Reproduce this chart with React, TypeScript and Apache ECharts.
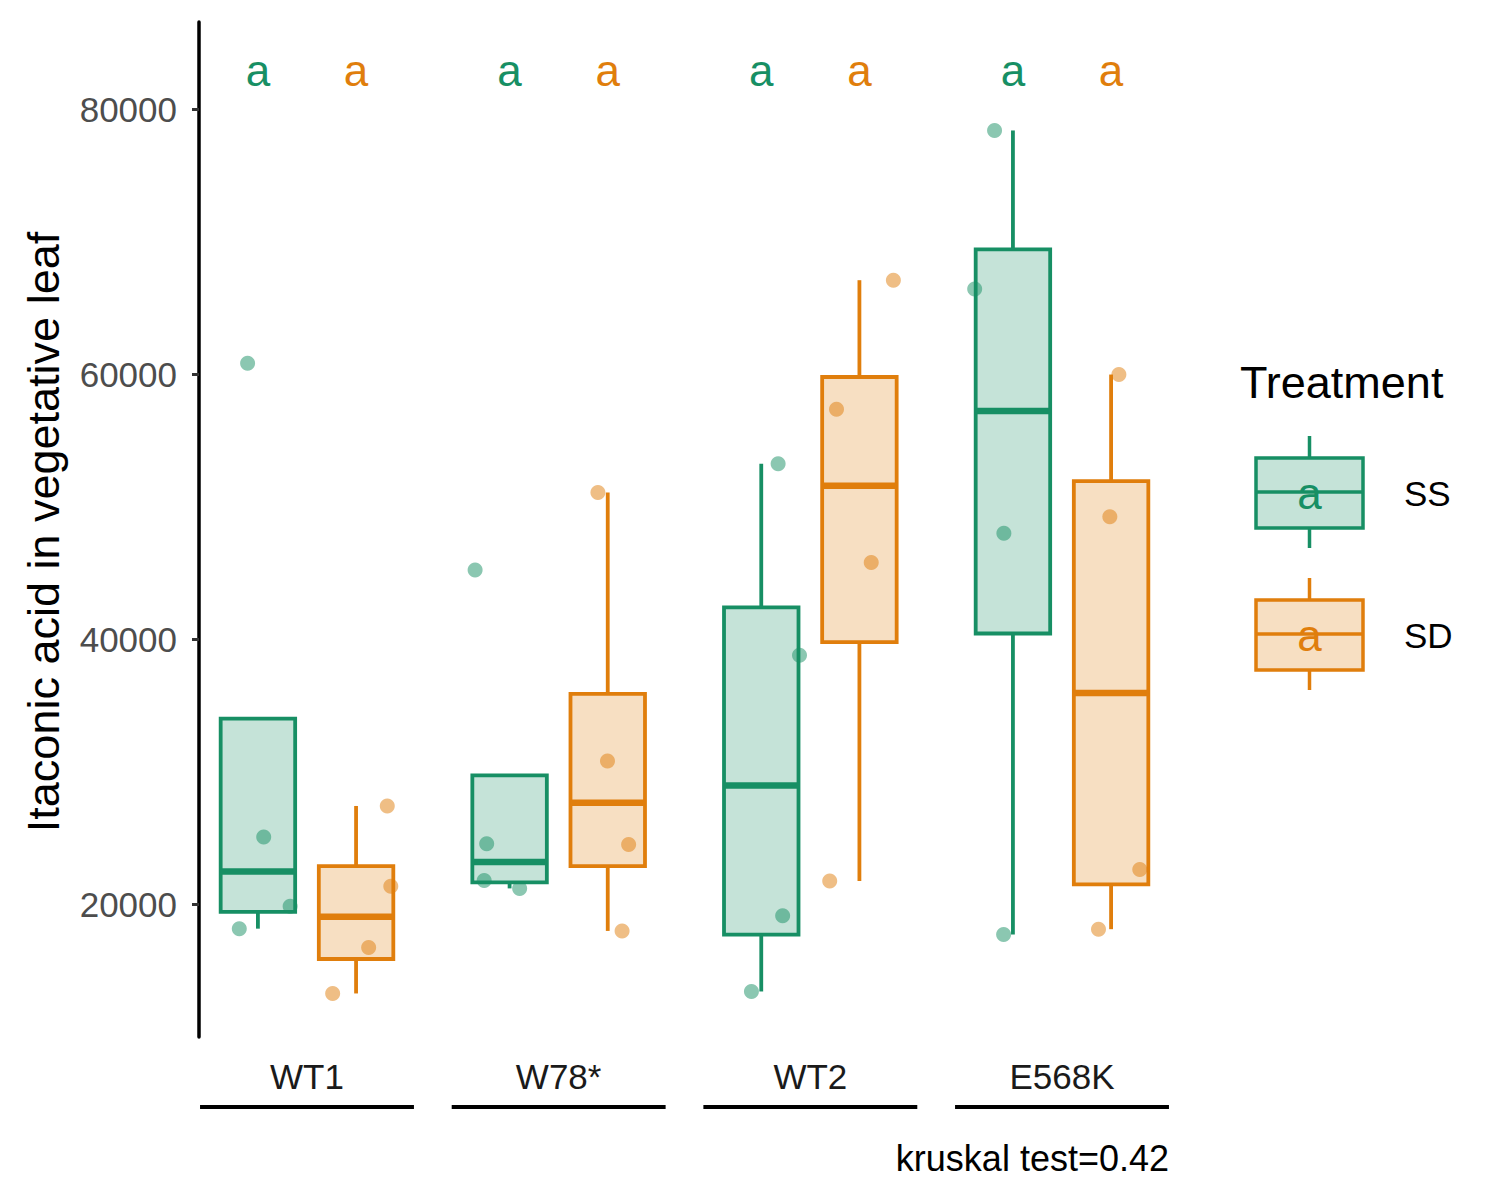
import React, { useEffect, useRef } from "react";
import * as echarts from "echarts";

// ---- data ----
const groups = ["WT1", "W78*", "WT2", "E568K"];
const treatments = ["SS", "SD"];
const ssValues = [
  [18140, 19830, 25060, 60810],
  [21180, 21780, 24550, 45210],
  [13400, 19120, 38780, 53220],
  [17700, 47990, 66420, 78380],
];
const sdValues = [
  [13250, 16720, 21340, 27400],
  [17970, 24490, 30800, 51050],
  [21730, 45780, 57340, 67080],
  [18100, 22610, 49230, 59960],
];
// horizontal jitter (in category units) of each point, same order as values
const ssJitter = [
  [-0.074, 0.128, 0.023, -0.041],
  [0.04, -0.101, -0.091, -0.137],
  [-0.039, 0.085, 0.152, 0.067],
  [-0.037, -0.036, -0.152, -0.073],
];
const sdJitter = [
  [-0.093, 0.05, 0.138, 0.124],
  [0.057, 0.083, -0.001, -0.039],
  [-0.118, 0.047, -0.091, 0.135],
  [-0.05, 0.114, -0.005, 0.031],
];
const ssLetters = ["a", "a", "a", "a"];
const sdLetters = ["a", "a", "a", "a"];
const letterY = 82900;
const yTicks = [20000, 40000, 60000, 80000];
const yTitle = "Itaconic acid in vegetative leaf";
const legendTitle = "Treatment";
const testNote = "kruskal test=0.42";

// ---- style ----
const FONT = "Liberation Sans, Arial, Helvetica, sans-serif";
const GREEN = "#178F64";
const ORANGE = "#E07E0C";
const GREEN_FILL = "#C5E3D8";
const ORANGE_FILL = "#F7DFC2";
const colors = [GREEN, ORANGE];
const fills = [GREEN_FILL, ORANGE_FILL];
const DODGE = 0.195;
const BOX_HALF = 0.148;
const X_MIN = 0.5709;
const X_MAX = 4.4291;
const Y_MIN = 9964;
const Y_MAX = 86566;

function quantile(sorted: number[], p: number) {
  const h = (sorted.length - 1) * p;
  const lo = Math.floor(h);
  const hi = Math.min(lo + 1, sorted.length - 1);
  return sorted[lo] + (h - lo) * (sorted[hi] - sorted[lo]);
}

function boxStats(vals: number[]) {
  const s = [...vals].sort((a, b) => a - b);
  const q1 = quantile(s, 0.25);
  const med = quantile(s, 0.5);
  const q3 = quantile(s, 0.75);
  const iqr = q3 - q1;
  const hiLim = q3 + 1.5 * iqr;
  const loLim = q1 - 1.5 * iqr;
  const high = Math.max(...s.filter((v) => v <= hiLim));
  const low = Math.min(...s.filter((v) => v >= loLim));
  return [low, q1, med, q3, high];
}

const allValues = [ssValues, sdValues];
const allJitter = [ssJitter, sdJitter];
const allLetters = [ssLetters, sdLetters];

function boxSeries(t: number) {
  const off = t === 0 ? -DODGE : DODGE;
  const data = allValues[t].map((vals, g) => [g + 1 + off, ...boxStats(vals)]);
  return {
    type: "custom",
    name: treatments[t],
    clip: false,
    z: 2,
    data,
    renderItem: (params: any, api: any) => {
      const x = api.value(0);
      const low = api.value(1);
      const q1 = api.value(2);
      const med = api.value(3);
      const q3 = api.value(4);
      const high = api.value(5);
      const halfW = api.size([BOX_HALF, 0])[0];
      const pLow = api.coord([x, low]);
      const pQ1 = api.coord([x, q1]);
      const pMed = api.coord([x, med]);
      const pQ3 = api.coord([x, q3]);
      const pHigh = api.coord([x, high]);
      const cx = pMed[0];
      const children: any[] = [];
      if (high > q3) {
        children.push({
          type: "line",
          shape: { x1: cx, y1: pQ3[1], x2: cx, y2: pHigh[1] },
          style: { stroke: colors[t], lineWidth: 3.8 },
        });
      }
      if (low < q1) {
        children.push({
          type: "line",
          shape: { x1: cx, y1: pQ1[1], x2: cx, y2: pLow[1] },
          style: { stroke: colors[t], lineWidth: 3.8 },
        });
      }
      children.push({
        type: "rect",
        shape: { x: cx - halfW, y: pQ3[1], width: 2 * halfW, height: pQ1[1] - pQ3[1] },
        style: { fill: fills[t], stroke: colors[t], lineWidth: 3.8 },
      });
      children.push({
        type: "line",
        shape: { x1: cx - halfW, y1: pMed[1], x2: cx + halfW, y2: pMed[1] },
        style: { stroke: colors[t], lineWidth: 6.5 },
      });
      return { type: "group", children };
    },
  };
}

function pointSeries(t: number) {
  const off = t === 0 ? -DODGE : DODGE;
  const data: number[][] = [];
  allValues[t].forEach((vals, g) => {
    vals.forEach((v, j) => data.push([g + 1 + off + allJitter[t][g][j], v]));
  });
  return {
    type: "scatter",
    name: treatments[t] + " points",
    z: 3,
    symbol: "circle",
    symbolSize: 15,
    itemStyle: { color: colors[t], opacity: 0.5 },
    data,
  };
}

function letterSeries(t: number) {
  const off = t === 0 ? -DODGE : DODGE;
  return {
    type: "custom",
    clip: false,
    z: 4,
    data: allLetters[t].map((_, g) => [g + 1 + off, letterY]),
    renderItem: (params: any, api: any) => {
      const p = api.coord([api.value(0), api.value(1)]);
      return {
        type: "text",
        x: p[0],
        y: p[1],
        style: {
          text: allLetters[t][params.dataIndex],
          fill: colors[t],
          fontSize: 44,
          fontFamily: FONT,
          align: "center",
          verticalAlign: "middle",
        },
      };
    },
  };
}

const underlineSeries = {
  type: "custom",
  clip: false,
  z: 1,
  data: groups.map((_, g) => [g + 1, Y_MIN]),
  renderItem: (params: any, api: any) => {
    const a = api.coord([api.value(0) - 0.425, api.value(1)]);
    const b = api.coord([api.value(0) + 0.425, api.value(1)]);
    return {
      type: "line",
      shape: { x1: a[0], y1: a[1] + 70, x2: b[0], y2: b[1] + 70 },
      style: { stroke: "#000", lineWidth: 4 },
    };
  },
};

function legendGraphics() {
  const els: any[] = [
    {
      type: "text",
      left: 1240,
      top: 360,
      style: { text: legendTitle, fontSize: 45, fontFamily: FONT, fill: "#000" },
    },
  ];
  treatments.forEach((name, t) => {
    const cy = 493 + t * 142;
    const x0 = 1256;
    const x1 = 1363;
    const cx = (x0 + x1) / 2;
    els.push({
      type: "line",
      shape: { x1: cx, y1: cy - 57, x2: cx, y2: cy + 55 },
      style: { stroke: colors[t], lineWidth: 3.5 },
    });
    els.push({
      type: "rect",
      shape: { x: x0, y: cy - 35, width: x1 - x0, height: 70 },
      style: { fill: fills[t], stroke: colors[t], lineWidth: 3.5 },
    });
    els.push({
      type: "line",
      shape: { x1: x0, y1: cy - 1, x2: x1, y2: cy - 1 },
      style: { stroke: colors[t], lineWidth: 3.5 },
    });
    els.push({
      type: "text",
      x: cx,
      y: cy,
      style: {
        text: allLetters[t][0],
        fill: colors[t],
        fontSize: 44,
        fontFamily: FONT,
        align: "center",
        verticalAlign: "middle",
      },
    });
    els.push({
      type: "text",
      x: 1404,
      y: cy,
      style: {
        text: name,
        fill: "#000",
        fontSize: 35,
        fontFamily: FONT,
        align: "left",
        verticalAlign: "middle",
      },
    });
  });
  els.push({
    type: "text",
    x: 43,
    y: 532,
    rotation: Math.PI / 2,
    style: {
      text: yTitle,
      fill: "#000",
      fontSize: 45,
      fontFamily: FONT,
      align: "center",
      verticalAlign: "middle",
    },
  });
  els.push({
    type: "text",
    x: 1169,
    y: 1158,
    style: {
      text: testNote,
      fill: "#000",
      fontSize: 36,
      fontFamily: FONT,
      align: "right",
      verticalAlign: "middle",
    },
  });
  return els;
}

export default function App() {
  const ref = useRef<HTMLDivElement>(null);
  useEffect(() => {
    if (!ref.current) return;
    const chart = echarts.init(ref.current, null, { renderer: "svg" });
    chart.setOption({
      animation: false,
      backgroundColor: "#fff",
      grid: {
        left: 199,
        right: 330,
        top: 22,
        bottom: 163,
        containLabel: false,
        outerBoundsMode: "none",
      },
      xAxis: {
        type: "value",
        min: X_MIN,
        max: X_MAX,
        axisLine: { show: false, onZero: false },
        axisTick: { show: false },
        splitLine: { show: false },
        axisLabel: {
          customValues: [1, 2, 3, 4],
          formatter: (v: number) => groups[Math.round(v) - 1] ?? "",
          margin: 22,
          fontSize: 35,
          fontFamily: FONT,
          color: "#1A1A1A",
        },
      },
      yAxis: {
        type: "value",
        min: Y_MIN,
        max: Y_MAX,
        axisLine: { show: true, onZero: false, lineStyle: { color: "#000", width: 3.5 } },
        axisTick: {
          show: true,
          customValues: yTicks,
          length: 7,
          lineStyle: { color: "#333", width: 3 },
        },
        axisLabel: {
          customValues: yTicks,
          formatter: (v: number) => String(v),
          margin: 22,
          fontSize: 35,
          fontFamily: FONT,
          color: "#4D4D4D",
        },
        splitLine: { show: false },
      },
      graphic: legendGraphics(),
      series: [
        underlineSeries,
        boxSeries(0),
        boxSeries(1),
        pointSeries(0),
        pointSeries(1),
        letterSeries(0),
        letterSeries(1),
      ],
    });
    return () => chart.dispose();
  }, []);
  return (
    <div
      ref={ref}
      style={{ position: "absolute", left: 0, top: 0, width: 1500, height: 1200 }}
    />
  );
}
